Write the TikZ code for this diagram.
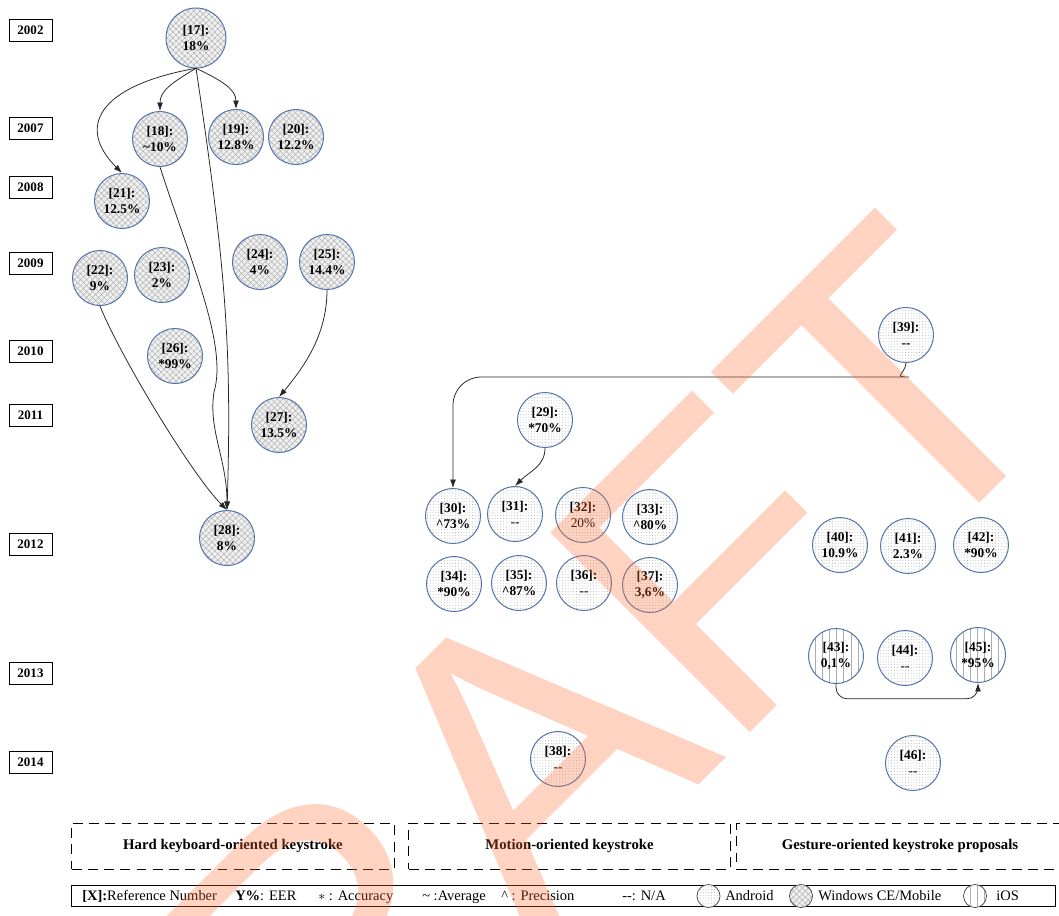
\documentclass[tikz,border=0pt]{standalone}
\usepackage{fontspec}
\setmainfont{Liberation Serif}
\newfontfamily\wmfont{Liberation Sans}
\usetikzlibrary{arrows.meta}
\usetikzlibrary{patterns.meta}
\definecolor{rimblue}{RGB}{84,114,170}
\definecolor{wmark}{RGB}{255,110,50}
\tikzset{
  refc/.style={circle, draw=rimblue, line width=0.7pt, minimum size=1.375cm, inner sep=0pt,
    align=center, font=\fontsize{9.5}{11.2}\selectfont\bfseries},
  winpat/.style={preaction={fill=gray!12}, pattern={Hatch[angle=45,distance=3pt,line width=0.35pt]}, pattern color=gray!60},
  droidpat/.style={preaction={fill=white}, pattern={Dots[distance=2pt,radius=0.3pt]}, pattern color=gray!75},
  iospat/.style={preaction={fill=white}, pattern={Lines[angle=90,distance=5pt,line width=0.35pt]}, pattern color=gray!65},
  yearbox/.style={draw, line width=0.7pt, minimum width=1.075cm, minimum height=0.55cm, inner sep=0pt,
    font=\fontsize{9.25}{11}\selectfont\bfseries},
  catbox/.style={draw, line width=0.7pt, dash pattern=on 7pt off 4.5pt, minimum height=1.15cm, inner sep=0pt,
    font=\fontsize{10.5}{12}\selectfont\bfseries},
  legtext/.style={anchor=base west, inner sep=0pt, font=\fontsize{10.3}{12}\selectfont},
  legc/.style={circle, draw=black!75, line width=0.5pt, minimum size=0.575cm, inner sep=0pt},
  link/.style={line width=0.55pt, black!85, -{Latex[length=6pt,width=4.2pt]}}
}
\newcommand{\refw}[4]{\node[refc,winpat] (#1) at (#2,-#3) {#4};}
\newcommand{\refa}[4]{\node[refc,droidpat] (#1) at (#2,-#3) {#4};}
\newcommand{\refi}[4]{\node[refc,iospat] (#1) at (#2,-#3) {#4};}
\newcommand{\yr}[2]{\node[yearbox] (y#1) at (30.5,-#2) {#1};}
\newcommand{\na}{{\mdseries -{}-}}

\begin{document}
\begin{tikzpicture}[x=0.025cm, y=0.025cm]
        \useasboundingbox (0,0) rectangle (1059,-915);
        \clip (0,0) rectangle (1059,-915);
        % years
        \yr{2002}{30}
        \yr{2007}{128}
        \yr{2008}{187}
        \yr{2009}{263}
        \yr{2010}{351}
        \yr{2011}{415}
        \yr{2012}{544}
        \yr{2013}{673}
        \yr{2014}{762}
        % hard keyboard
        \node[refc,winpat,minimum size=1.5cm] (n17) at (196,-38) {[17]:\\18\%};
        \refw{n18}{160}{139}{[18]:\\\textasciitilde10\%}
        \refw{n19}{236}{137}{[19]:\\12.8\%}
        \refw{n20}{296}{137}{[20]:\\12.2\%}
        \refw{n21}{122}{201}{[21]:\\12.5\%}
        \refw{n22}{100}{278}{[22]:\\9\%}
        \refw{n23}{162}{275}{[23]:\\2\%}
        \refw{n24}{260}{262}{[24]:\\4\%}
        \refw{n25}{327}{262}{[25]:\\14.4\%}
        \refw{n26}{175}{356}{[26]:\\*99\%}
        \refw{n27}{279}{425}{[27]:\\13.5\%}
        \refw{n28}{227}{538}{[28]:\\8\%}
        % motion
        \refa{n29}{545}{420}{[29]:\\*70\%}
        \refa{n30}{453}{516}{[30]:\\\textasciicircum73\%}
        \refa{n31}{515}{514}{[31]:\\\na}
        \refa{n32}{583}{515}{[32]:\\\mdseries 20\%}
        \refa{n33}{650}{517}{[33]:\\\textasciicircum80\%}
        \refa{n34}{454}{584}{[34]:\\*90\%}
        \refa{n35}{519}{583}{[35]:\\\textasciicircum87\%}
        \refa{n36}{584}{583}{[36]:\\\na}
        \refa{n37}{650}{585}{[37]:\\3,6\%}
        \refa{n38}{558}{759}{[38]:\\\na}
        % gesture
        \refa{n39}{906}{335}{[39]:\\-{}-}
        \refa{n40}{840}{545}{[40]:\\10.9\%}
        \refa{n41}{908}{546}{[41]:\\2.3\%}
        \refa{n42}{981}{545}{[42]:\\*90\%}
        \refi{n43}{836}{656}{[43]:\\0,1\%}
        \refa{n44}{905}{658}{[44]:\\\na}
        \refi{n45}{978}{655}{[45]:\\*95\%}
        \refa{n46}{913}{763}{[46]:\\\na}
        % links
        \draw[link] (n17.south) .. controls +(-100,-18) and +(-45,45) .. (n21.north);
        \draw[link] (n17.south) .. controls +(-25,-15) and +(0,20) .. (n18.north);
        \draw[link] (n17.south) .. controls +(25,-12) and +(0,20) .. (n19.north);
        \draw[link] (n17.south) .. controls +(30,-200) and +(5,160) .. (n28.north);
        \coordinate (bend) at (214,-392);
        \draw[link] (n18.south) .. controls +(30,-93) and +(14,47) .. (bend)
                    .. controls +(-6,-38) and +(0,51) .. (n28.north);
        \draw[link] (n22.south) .. controls +(20,-50) and +(-35,35) .. (n28.north);
        \draw[link] (n25.south) .. controls +(0,-45) and +(25,30) .. (n27.north);
        \draw[link, rounded corners=20pt] (n39.south) to[out=-95,in=0] ++(-25,-14) -| (n30.north);
        \draw[link] (n29.south) .. controls +(0,-18) and +(15,15) .. (n31.north);
        \draw[link, rounded corners=8pt] (n43.south) -- ++(0,-15) -| (n45.south);
        % categories
        \node[catbox, minimum width=8.05cm] (hard) at (233,-846) {Hard keyboard-oriented keystroke};
        \node[catbox, minimum width=8.025cm] (motion) at (569.5,-846) {Motion-oriented keystroke};
        \node[catbox, minimum width=8.15cm] (gesture) at (900,-846) {Gesture-oriented keystroke proposals};
        % legend
        \node[draw, line width=0.7pt, minimum width=24.575cm, minimum height=0.525cm, inner sep=0pt] (legend) at (563.5,-895.5) {};
        \node[legtext] (lref) at (82,-900) {\textbf{[X]:}Reference Number};
        \node[legtext] (leer) at (235,-900) {\textbf{Y\%}: EER};
        \node[legtext] (lacc) at (318,-900) {$\ast$ : Accuracy};
        \node[legtext] (lavg) at (422,-900) {\textasciitilde{} :Average};
        \node[legtext] (lpre) at (501,-900) {\textasciicircum{} : Precision};
        \node[legtext] (lna) at (622,-900) {-{}-: N/A};
        \node[legc, droidpat] (land) at (708.5,-896) {};
        \node[legtext] (tand) at (725,-900) {Android};
        \node[legc, winpat] (lwin) at (801,-896) {};
        \node[legtext] (twin) at (818,-900) {Windows CE/Mobile};
        \node[legc, iospat] (lios) at (975,-896) {};
        \node[legtext] (tios) at (996,-900) {iOS};
        % watermark
        \node[rotate=45, inner sep=0pt, text=wmark, text opacity=0.3,
              font=\wmfont\fontsize{292}{300}\selectfont] (wm) at (498,-785.5) {DRAFT};
\end{tikzpicture}
\end{document}
